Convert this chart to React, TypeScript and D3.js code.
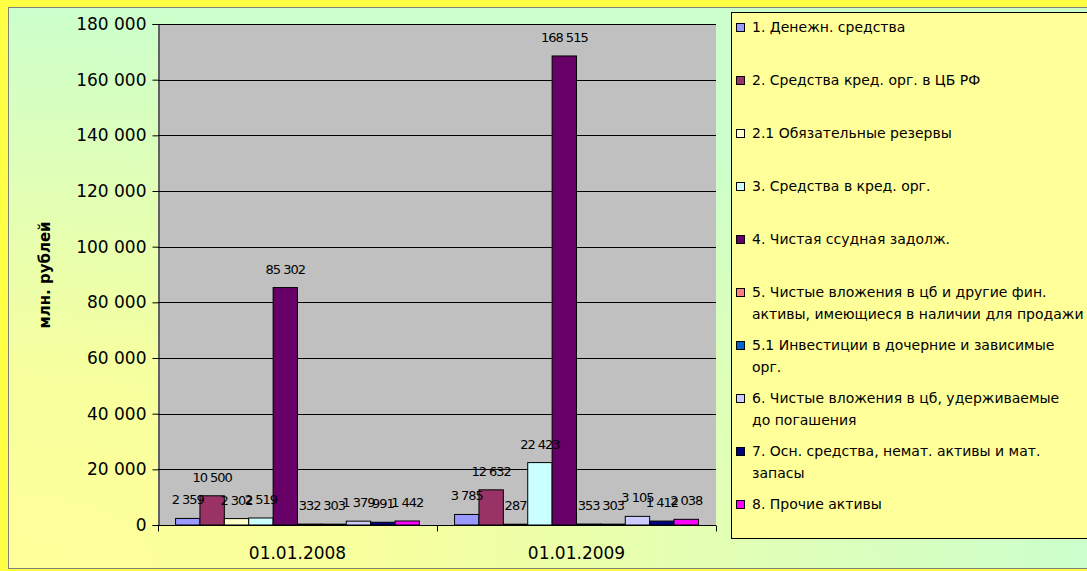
import { useEffect, useRef } from 'react';
import * as d3 from 'd3';

const dates = ['01.01.2008', '01.01.2009'];
const seriesNames = [
  '1. Денежн. средства',
  '2. Средства кред. орг. в ЦБ РФ',
  '2.1 Обязательные резервы',
  '3. Средства в кред. орг.',
  '4. Чистая ссудная задолж.',
  '5. Чистые вложения в цб и другие фин.\nактивы, имеющиеся в наличии для продажи',
  '5.1 Инвестиции в дочерние и зависимые\nорг.',
  '6. Чистые вложения в цб, удерживаемые\nдо погашения',
  '7. Осн. средства, немат. активы и мат.\nзапасы',
  '8. Прочие активы',
];
const values2008 = [2359, 10500, 2302, 2519, 85302, 332, 303, 1379, 991, 1442];
const values2009 = [3785, 12632, 287, 22423, 168515, 353, 303, 3105, 1412, 2038];
const colors = ['#9999FF', '#993366', '#FFFFCC', '#CCFFFF', '#660066', '#FF8080', '#0066CC', '#CCCCFF', '#000080', '#FF00FF'];
const yTicks = [0, 20000, 40000, 60000, 80000, 100000, 120000, 140000, 160000, 180000];

const W = 1087;
const H = 571;
const FONT = '"DejaVu Sans", Verdana, sans-serif';
const fmt = (v: number) => d3.format(',')(v).replace(/,/g, ' ');

export default function App() {
  const svgRef = useRef<SVGSVGElement>(null);

  useEffect(() => {
    if (!svgRef.current) return;
    const svg = d3.select(svgRef.current);
    svg.selectAll('*').remove();

    const defs = svg.append('defs');
    const grad = defs.append('radialGradient')
      .attr('id', 'bg')
      .attr('gradientUnits', 'userSpaceOnUse')
      .attr('cx', 0).attr('cy', 0).attr('r', 1)
      .attr('gradientTransform', 'translate(8,569) scale(1079,561)');
    grad.append('stop').attr('offset', 0).attr('stop-color', '#ffff99');
    grad.append('stop').attr('offset', 0.35).attr('stop-color', '#f7ff9e');
    grad.append('stop').attr('offset', 1).attr('stop-color', '#ccffcc');

    svg.append('rect').attr('width', W).attr('height', H).attr('fill', '#ffff44');
    svg.append('rect').attr('x', 8.5).attr('y', 7.5).attr('width', W).attr('height', 561)
      .attr('fill', 'url(#bg)').attr('stroke', '#808080');

    const left = 158, right = 716, top = 24, bottom = 525;
    const x0 = d3.scaleBand().domain(dates).range([left, right]);
    const x1 = d3.scaleBand().domain(d3.range(seriesNames.length).map(String))
      .range([0, x0.bandwidth()]).paddingInner(0).paddingOuter(0.72);
    const y = d3.scaleLinear().domain([0, 180000]).range([bottom, top]);

    svg.append('rect').attr('x', left).attr('y', top).attr('width', right - left).attr('height', bottom - top)
      .attr('fill', '#c0c0c0');

    svg.append('g').selectAll('line').data(yTicks.filter((t) => t > 0)).join('line')
      .attr('x1', left).attr('x2', right)
      .attr('y1', (d) => Math.round(y(d)) + 0.5).attr('y2', (d) => Math.round(y(d)) + 0.5)
      .attr('stroke', '#000').attr('stroke-width', 1);

    const groups = [values2008, values2009];
    groups.forEach((vals, gi) => {
      const g = svg.append('g').attr('transform', `translate(${x0(dates[gi])},0)`);
      g.selectAll('rect').data(vals).join('rect')
        .attr('x', (_, i) => x1(String(i))!)
        .attr('y', (d) => y(d))
        .attr('width', x1.bandwidth())
        .attr('height', (d) => bottom - y(d))
        .attr('fill', (_, i) => colors[i])
        .attr('stroke', '#000').attr('stroke-width', 1);
      g.selectAll('text').data(vals).join('text')
        .attr('x', (_, i) => x1(String(i))! + x1.bandwidth() / 2)
        .attr('y', (d) => y(d) - 14)
        .attr('text-anchor', 'middle')
        .attr('font-family', FONT).attr('font-size', 13).attr('letter-spacing', -1)
        .attr('fill', '#000')
        .text((d) => fmt(d));
    });

    // y axis
    const ya = svg.append('g').attr('transform', `translate(${left + 0.5},0)`)
      .call(d3.axisLeft(y).tickValues(yTicks).tickSize(6).tickPadding(6).tickFormat((d) => fmt(+d)));
    ya.selectAll('text').attr('font-family', FONT).attr('font-size', 17).attr('fill', '#000');
    ya.selectAll('.domain, .tick line').attr('stroke', '#000');

    // x axis
    const xa = svg.append('g').attr('transform', `translate(0,${bottom + 0.5})`);
    xa.append('line').attr('x1', left).attr('x2', right).attr('stroke', '#000');
    xa.selectAll('line.tk').data([left, ...dates.map((d) => x0(d)! + x0.bandwidth())]).join('line')
      .attr('class', 'tk')
      .attr('x1', (d) => Math.round(d) + 0.5).attr('x2', (d) => Math.round(d) + 0.5)
      .attr('y1', 0).attr('y2', 6).attr('stroke', '#000');
    xa.selectAll('text').data(dates).join('text')
      .attr('x', (d) => x0(d)! + x0.bandwidth() / 2)
      .attr('y', 33)
      .attr('text-anchor', 'middle')
      .attr('font-family', FONT).attr('font-size', 17).attr('fill', '#000')
      .text((d) => d);

    svg.append('text')
      .attr('transform', 'translate(50,275) rotate(-90)')
      .attr('text-anchor', 'middle')
      .attr('font-family', FONT).attr('font-size', 15).attr('font-weight', 'bold')
      .text('млн. рублей');

    // legend
    svg.append('rect').attr('x', 731.5).attr('y', 12.5).attr('width', 400).attr('height', 526)
      .attr('fill', '#ffff99').attr('stroke', '#000');
    const ly = d3.scalePoint().domain(seriesNames).range([27, 504]);
    const items = svg.append('g').selectAll('g').data(seriesNames).join('g')
      .attr('transform', (d) => `translate(736,${ly(d)})`);
    items.append('rect').attr('x', 0.5).attr('y', -3.5).attr('width', 8).attr('height', 8)
      .attr('fill', (_, i) => colors[i]).attr('stroke', '#000');
    items.append('text')
      .attr('font-family', FONT).attr('font-size', 14).attr('fill', '#000')
      .selectAll('tspan').data((d) => d.split('\n')).join('tspan')
      .attr('x', 16).attr('y', (_, i) => 5 + i * 22)
      .text((d) => d);
  }, []);

  return (
    <svg ref={svgRef} width={W} height={H} style={{ position: 'absolute', left: 0, top: 0, display: 'block' }} />
  );
}
